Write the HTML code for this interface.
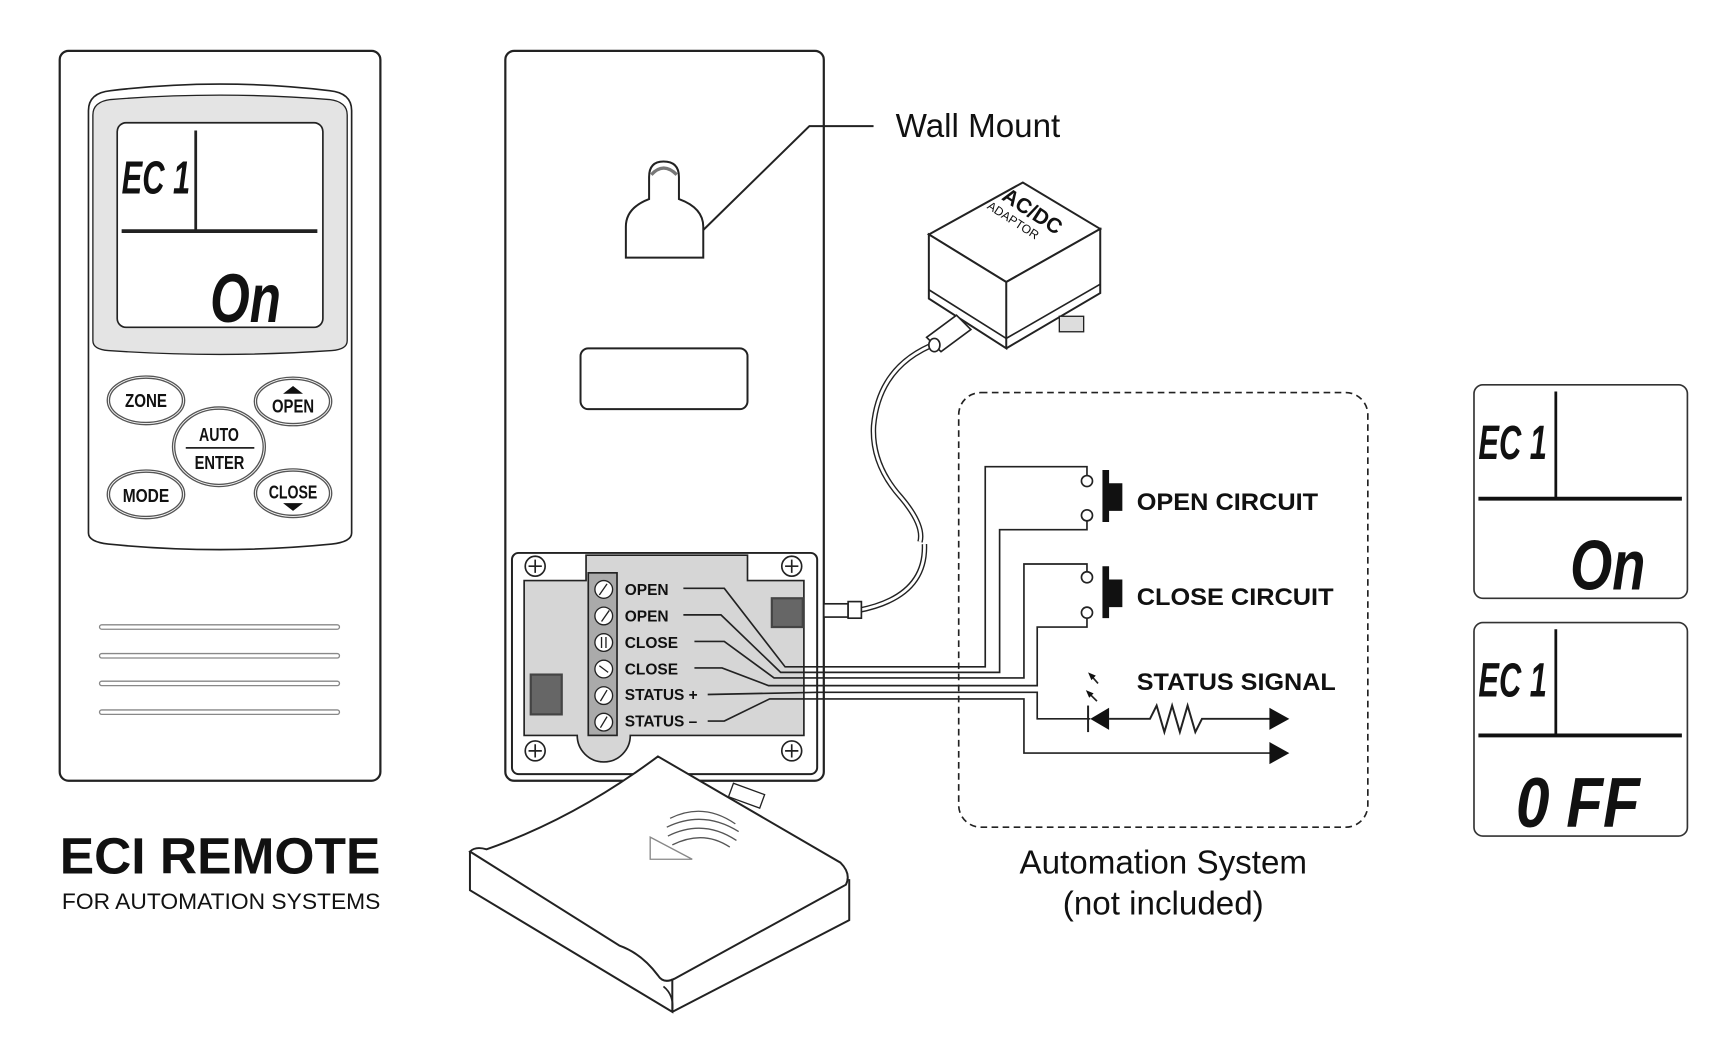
<!DOCTYPE html>
<html><head><meta charset="utf-8"><style>
html,body{margin:0;padding:0;background:#fff;}
svg{display:block;}
.n{font-family:"Liberation Sans",sans-serif;font-weight:bold;}
.s{font-family:"Liberation Sans",sans-serif;}
</style></head><body>
<svg width="1725" height="1055" viewBox="0 0 1560 954" preserveAspectRatio="none" xmlns="http://www.w3.org/2000/svg">
<rect width="1560" height="954" fill="#fff"/>
<g fill="none" stroke="#222" stroke-width="2">
<rect x="54" y="46" width="290" height="660" rx="8"/>
<path d="M80 100 Q80 84 100 82 Q199 70 298 82 Q318 84 318 100 L318 482 Q318 490 300 492 Q199 502 98 492 Q80 490 80 482 Z" stroke-width="1.5"/>
<path d="M84 104 Q84 92 100 90 Q199 82 298 90 Q314 92 314 104 L314 308 Q314 316 300 317 Q199 324 98 317 Q84 316 84 308 Z" fill="#e4e4e4" stroke-width="1.2"/>
<rect x="106" y="111" width="186" height="185" rx="8" fill="#fff" stroke-width="1.5"/>
<line x1="177" y1="118" x2="177" y2="208" stroke-width="2.5"/>
<line x1="110" y1="209" x2="287" y2="209" stroke-width="3.5"/>
<g stroke="#555" stroke-width="1.2">
<ellipse cx="132" cy="362" rx="35" ry="22"/><ellipse cx="132" cy="362" rx="33" ry="20"/>
<ellipse cx="265" cy="363" rx="35" ry="22"/><ellipse cx="265" cy="363" rx="33" ry="20"/>
<ellipse cx="198" cy="404" rx="42" ry="36"/><ellipse cx="198" cy="404" rx="40" ry="34"/>
<ellipse cx="132" cy="447" rx="35" ry="22"/><ellipse cx="132" cy="447" rx="33" ry="20"/>
<ellipse cx="265" cy="446" rx="35" ry="22"/><ellipse cx="265" cy="446" rx="33" ry="20"/>
</g>
<line x1="168" y1="405" x2="230" y2="405" stroke-width="1.5"/>
<g stroke="#888" stroke-width="1.2">
<rect x="90" y="565" width="217" height="4" rx="2"/><rect x="90" y="591" width="217" height="4" rx="2"/>
<rect x="90" y="616" width="217" height="4" rx="2"/><rect x="90" y="642" width="217" height="4" rx="2"/>
</g>
<rect x="457" y="46" width="288" height="660" rx="8"/>
<path d="M566 233 L566 205 Q566 188 587 180 L587 160 Q587 146 600 146 Q614 146 614 160 L614 180 Q636 188 636 205 L636 233 Z" stroke-width="1.8"/>
<path d="M589 158 Q600 146 612 158" stroke="#777" stroke-width="3"/>
<polyline points="636,208 732,114 790,114" stroke-width="1.8"/>
<rect x="525" y="315" width="151" height="55" rx="7" stroke-width="1.8"/>
<rect x="463" y="500" width="276" height="200" rx="6" stroke-width="1.8"/>
<path d="M530 502 L676 502 L676 525 L727 525 L727 665 L570 665 A24 24 0 0 1 522 665 L474 665 L474 525 L530 525 Z" fill="#d6d6d6" stroke-width="1.5"/>
<rect x="532" y="518" width="26" height="147" fill="#aaa" stroke-width="1.5"/>
<rect x="480" y="610" width="28" height="36" fill="#666" stroke="#444"/>
<rect x="698" y="541" width="28" height="26" fill="#666" stroke="#444"/>
<g stroke-width="1.2">
<circle cx="546" cy="533" r="8" fill="#fff"/><circle cx="546" cy="557" r="8" fill="#fff"/><circle cx="546" cy="581" r="8" fill="#fff"/>
<circle cx="546" cy="605" r="8" fill="#fff"/><circle cx="546" cy="629" r="8" fill="#fff"/><circle cx="546" cy="653" r="8" fill="#fff"/>
<path d="M542 538 L549 528 M544 562 L551 552 M544 586 L544 576 M548 586 L548 576 M542 602 L550 608 M543 634 L549 624 M543 658 L549 648"/>
</g>
<g stroke-width="1.5">
<circle cx="484" cy="512" r="9" fill="#fff"/><circle cx="716" cy="512" r="9" fill="#fff"/><circle cx="484" cy="679" r="9" fill="#fff"/><circle cx="716" cy="679" r="9" fill="#fff"/>
<path d="M478 512h12M484 506v12M710 512h12M716 506v12M478 679h12M484 673v12M710 679h12M716 673v12"/>
</g>
<g stroke-width="1.5">
<polyline points="618,532 655,532 710,603 891,603 891,422 983,422 983,430"/>
<polyline points="618,556 652,556 706,608 904,608 904,479 983,479 983,471"/>
<polyline points="628,580 655,580 700,613 926,613 926,510 983,510 983,517"/>
<polyline points="628,604 653,604 695,620 938,620 938,567 983,567 983,559"/>
<polyline points="640,628 740,626 938,626 938,650 986,650"/>
<polyline points="640,652 655,652 696,632 926,632 926,681 1150,681"/>
</g>
<path d="M848 310 Q795 330 790 385 Q788 420 815 450 Q836 475 832 490" stroke-width="5"/>
<path d="M848 310 Q795 330 790 385 Q788 420 815 450 Q836 475 832 490" stroke="#fff" stroke-width="2.5"/>
<path d="M836 492 Q838 540 776 552" stroke-width="5"/>
<path d="M836 492 Q838 540 776 552" stroke="#fff" stroke-width="2.5"/>
<rect x="745" y="546" width="22" height="12" fill="#fff" stroke-width="1.5"/>
<rect x="767" y="544" width="12" height="15" fill="#fff" stroke-width="1.5"/>
<path d="M840 212 L925 165 L995 207 L910 255 Z" fill="#fff" stroke-width="1.8"/>
<path d="M840 212 L840 270 L910 315 L910 255 Z M910 255 L995 207 L995 265 L910 315" fill="#fff" stroke-width="1.8"/>
<path d="M840 262 L910 306 L995 257" stroke-width="1.5"/>
<rect x="958" y="286" width="22" height="14" fill="#ddd" stroke-width="1.2"/>
<path d="M838 305 L865 285 L878 298 L851 318 Z" fill="#fff" stroke-width="1.5"/>
<ellipse cx="845" cy="312" rx="5" ry="6" fill="#fff" stroke-width="1.5"/>
<rect x="660" y="713" width="30" height="13" fill="#fff" stroke-width="1.2" transform="rotate(20 675 720)"/>
<path d="M425 770 Q430 765 440 768 Q520 740 595 684 L760 780 Q770 790 765 800 L610 885 Q600 890 595 882 Q580 862 560 855 Z" fill="#fff" stroke-width="1.8"/>
<path d="M425 770 L425 805 L608 915 L608 885 M608 915 L768 832 L768 795" stroke-width="1.8"/>
<path d="M600 892 Q610 900 608 915" stroke-width="1.5"/>
<g stroke="#555" stroke-width="1.2"><path d="M606 740 Q636 725 665 745 M603 748 Q636 732 668 752 M604 756 Q636 740 666 760 M608 764 Q636 750 660 766"/></g>
<path d="M588 757 L626 777 L588 777 Z" stroke="#888" stroke-width="1.2"/>
<rect x="867" y="355" width="370" height="393" rx="20" stroke-width="1.5" stroke-dasharray="6 4"/>
<circle cx="983" cy="435" r="5" fill="#fff" stroke-width="1.5"/><circle cx="983" cy="466" r="5" fill="#fff" stroke-width="1.5"/>
<circle cx="983" cy="522" r="5" fill="#fff" stroke-width="1.5"/><circle cx="983" cy="554" r="5" fill="#fff" stroke-width="1.5"/>
<line x1="984" y1="638" x2="984" y2="662" stroke-width="1.8"/>
<polyline points="1003,650 1040,650 1046,638 1053,662 1060,638 1067,662 1074,638 1081,662 1087,650 1150,650" stroke-width="1.8"/>
<path d="M986 610 L993 618 M984 626 L992 634" stroke-width="1.5"/>
</g>
<g fill="#111">
<path d="M997 425h6v47h-6zM1003 437h12v25h-12zM997 512h6v47h-6zM1003 524h12v25h-12z"/>
<path d="M986 650 L1003 640 L1003 660 Z"/>
<path d="M1148 640 L1166 650 L1148 660 Z M1148 671 L1166 681 L1148 691 Z"/>
<path d="M984 608 L991 611 L987 615 Z M982 624 L989 627 L985 631 Z"/>
</g>
<g fill="none" stroke="#333">
<rect x="1333" y="348" width="193" height="193" rx="8" stroke-width="1.5"/>
<line x1="1407" y1="354" x2="1407" y2="451" stroke="#111" stroke-width="2.5"/>
<line x1="1337" y1="451" x2="1521" y2="451" stroke="#111" stroke-width="3.5"/>
<rect x="1333" y="563" width="193" height="193" rx="8" stroke-width="1.5"/>
<line x1="1407" y1="569" x2="1407" y2="665" stroke="#111" stroke-width="2.5"/>
<line x1="1337" y1="665" x2="1521" y2="665" stroke="#111" stroke-width="3.5"/>
</g>
<g fill="#111">
<text class="n" x="110" y="175" font-size="42" font-style="italic" textLength="62" lengthAdjust="spacingAndGlyphs">EC 1</text>
<text class="n" x="190" y="291" font-size="62" font-style="italic" textLength="64" lengthAdjust="spacingAndGlyphs">On</text>
<text class="n" x="1337" y="415" font-size="44" font-style="italic" textLength="62" lengthAdjust="spacingAndGlyphs">EC 1</text>
<text class="n" x="1420" y="533" font-size="64" font-style="italic" textLength="68" lengthAdjust="spacingAndGlyphs">On</text>
<text class="n" x="1337" y="630" font-size="44" font-style="italic" textLength="62" lengthAdjust="spacingAndGlyphs">EC 1</text>
<text class="n" x="1371" y="748" font-size="64" font-style="italic" textLength="112" lengthAdjust="spacingAndGlyphs">0 FF</text>
<g class="n" font-size="17">
<text x="113" y="368" textLength="38" lengthAdjust="spacingAndGlyphs">ZONE</text>
<text x="246" y="373" textLength="38" lengthAdjust="spacingAndGlyphs">OPEN</text>
<text x="180" y="399" textLength="36" lengthAdjust="spacingAndGlyphs">AUTO</text>
<text x="176" y="424" textLength="45" lengthAdjust="spacingAndGlyphs">ENTER</text>
<text x="111" y="454" textLength="42" lengthAdjust="spacingAndGlyphs">MODE</text>
<text x="243" y="451" textLength="44" lengthAdjust="spacingAndGlyphs">CLOSE</text>
</g>
<path d="M256 356 L265 349 L274 356 Z M256 455 L265 462 L274 455 Z"/>
<text class="s" x="54" y="790" font-size="46" font-weight="bold" textLength="290" lengthAdjust="spacingAndGlyphs">ECI REMOTE</text>
<text class="s" x="56" y="822" font-size="20" textLength="288" lengthAdjust="spacingAndGlyphs">FOR AUTOMATION SYSTEMS</text>
<text class="s" x="810" y="124" font-size="30">Wall Mount</text>
<g class="s" font-size="14" font-weight="bold">
<text x="565" y="538">OPEN</text><text x="565" y="562">OPEN</text><text x="565" y="586">CLOSE</text>
<text x="565" y="610">CLOSE</text><text x="565" y="633">STATUS +</text><text x="565" y="657">STATUS –</text>
</g>
<g class="s" font-size="22" font-weight="bold">
<text x="1028" y="461" textLength="164" lengthAdjust="spacingAndGlyphs">OPEN CIRCUIT</text>
<text x="1028" y="547" textLength="178" lengthAdjust="spacingAndGlyphs">CLOSE CIRCUIT</text>
<text x="1028" y="624" textLength="180" lengthAdjust="spacingAndGlyphs">STATUS SIGNAL</text>
</g>
<text class="s" x="1052" y="790" font-size="30" text-anchor="middle">Automation System</text>
<text class="s" x="1052" y="827" font-size="30" text-anchor="middle">(not included)</text>
<text class="s" x="905" y="180" font-size="19" font-weight="bold" transform="rotate(33 905 180)">AC/DC</text>
<text class="s" x="892" y="188" font-size="11" transform="rotate(33 892 188)">ADAPTOR</text>
</g>
</svg>
</body></html>
